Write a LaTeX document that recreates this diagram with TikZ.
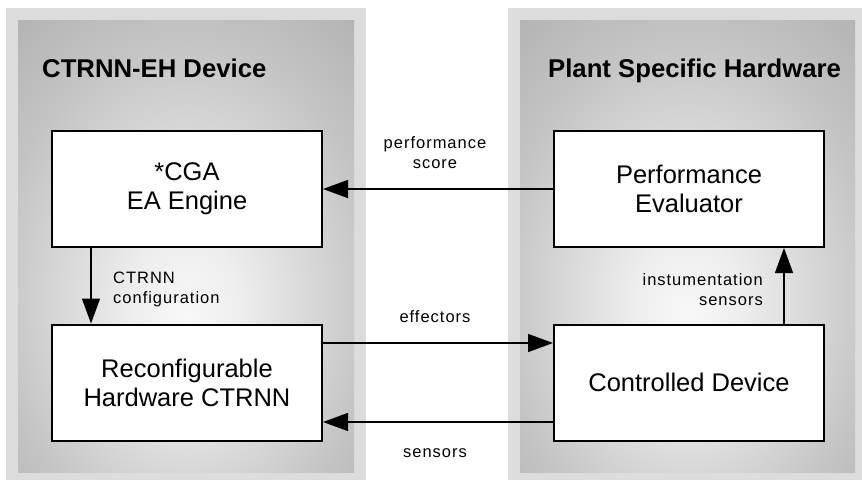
\documentclass[tikz,border=0pt]{standalone}
\usepackage{fontspec}
\setmainfont{Liberation Sans}
\newfontfamily\lblfont[LetterSpace=6]{Liberation Sans}
\usetikzlibrary{arrows.meta}
\definecolor{frame}{HTML}{DCDCDC}
\definecolor{pcenter}{HTML}{F8F8F8}
\definecolor{pinner}{HTML}{EEEEEE}
\definecolor{pmid}{HTML}{C4C4C4}
\definecolor{pedge}{HTML}{A8A8A8}
\pgfdeclareradialshading{panelshade}{\pgfpoint{0bp}{-8bp}}{color(0bp)=(pcenter); color(8bp)=(pinner); color(28bp)=(pmid); color(46bp)=(pedge); color(80bp)=(pedge)}
\begin{document}
\begin{tikzpicture}[x=1pt,y=-1pt,
  block/.style={draw=black, line width=2pt, fill=white, minimum width=270pt, minimum height=116pt, align=center, inner sep=0pt, font=\fontsize{25.5}{29}\selectfont},
  title/.style={font=\fontsize{25.7}{30}\selectfont\bfseries, inner sep=0pt},
  lbl/.style={font=\lblfont\fontsize{16.5}{20}\selectfont, inner sep=0pt},
  conn/.style={line width=1.3pt, -{Triangle[length=25pt, width=18pt]}}
]
\useasboundingbox (0,0) rectangle (862,480);
\fill[white] (0,0) rectangle (862,480);
% panels
\fill[frame] (6,8) rectangle (366,480);
\shade[shading=panelshade] (18,20) rectangle (354,472);
\fill[frame] (508,8) rectangle (862,480);
\shade[shading=panelshade] (520,20) rectangle (855,472);
% titles
\node[title, anchor=base west] (t1) at (42,77) {CTRNN-EH Device};
\node[title, anchor=base west] (t2) at (548,77) {Plant Specific Hardware};
% blocks
\node[block] (ea) at (187,189) {*CGA\\EA Engine};
\node[block] (rec) at (187,382.5) {Reconfigurable\\Hardware CTRNN};
\node[block] (pe) at (689,189) {Performance\\Evaluator};
\node[block] (cd) at (689,382.5) {Controlled Device};
% connectors
\draw[conn] (pe.west) -- (ea.east);
\draw[conn] ([yshift=39.5pt]rec.east) -- ([yshift=39.5pt]cd.west);
\draw[conn] ([yshift=-39.5pt]cd.west) -- ([yshift=-39.5pt]rec.east);
\draw[conn] ([xshift=-96pt]ea.south) -- ([xshift=-96pt]rec.north);
\draw[conn] ([xshift=95pt]cd.north) -- ([xshift=95pt]pe.south);
% labels (base anchor = baseline of last line)
\node[lbl, align=center, anchor=base] (l1) at (435,168) {performance\\score};
\node[lbl, anchor=base] (l2) at (435,322) {effectors};
\node[lbl, anchor=base] (l3) at (435,457) {sensors};
\node[lbl, align=left, anchor=base west] (l4) at (113,303) {CTRNN\\configuration};
\node[lbl, align=right, anchor=base east] (l5) at (763,305) {instumentation\\sensors};
\end{tikzpicture}
\end{document}
